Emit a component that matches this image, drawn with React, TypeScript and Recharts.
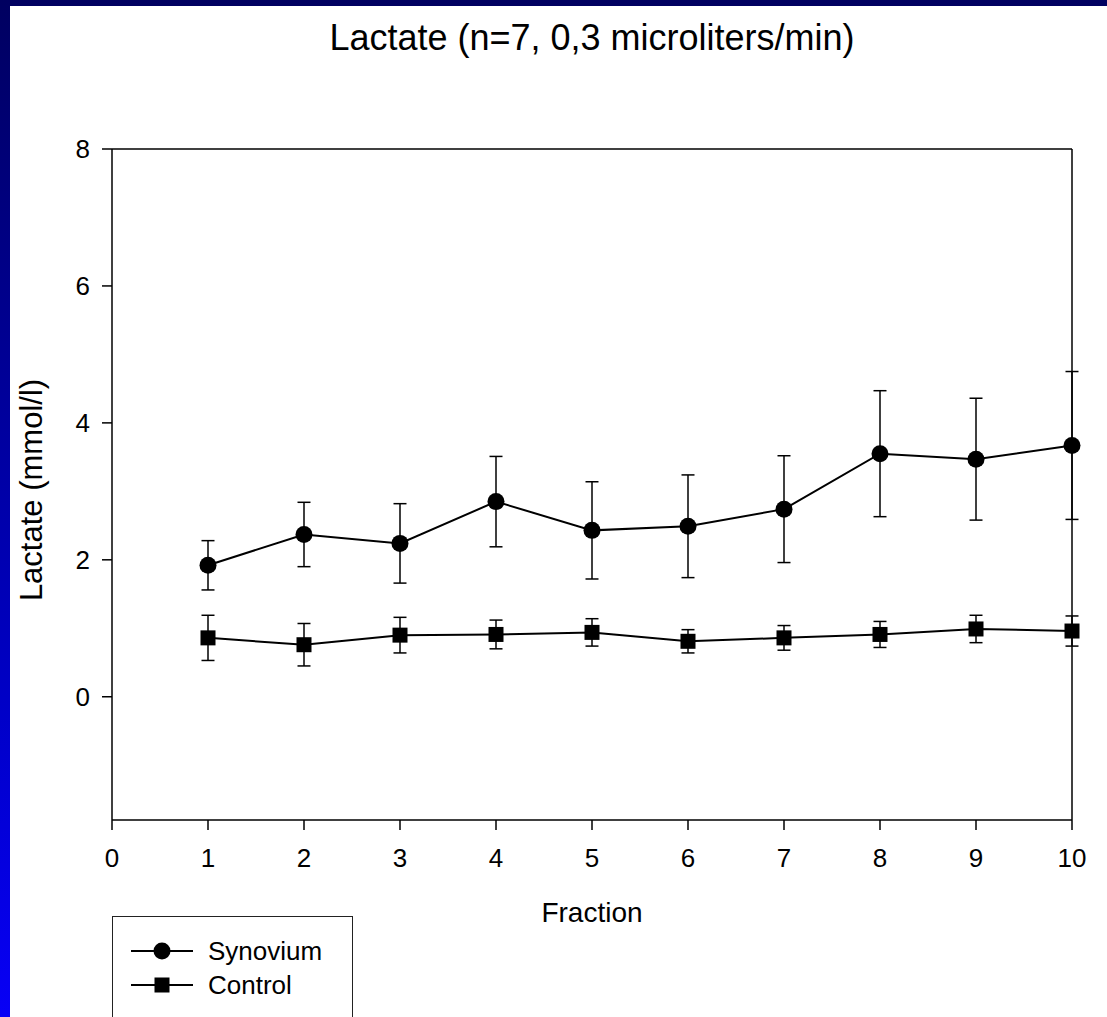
import React from 'react';
import { ComposedChart, Line, XAxis, YAxis, ErrorBar, ReferenceLine } from 'recharts';

const fractions = [1, 2, 3, 4, 5, 6, 7, 8, 9, 10];
const synovium = [1.92, 2.37, 2.24, 2.85, 2.43, 2.49, 2.74, 3.55, 3.47, 3.67];
const synoviumErr = [0.36, 0.47, 0.58, 0.66, 0.71, 0.75, 0.78, 0.92, 0.89, 1.08];
const control = [0.86, 0.76, 0.9, 0.91, 0.94, 0.81, 0.86, 0.91, 0.99, 0.96];
const controlErr = [0.33, 0.31, 0.26, 0.21, 0.2, 0.17, 0.18, 0.19, 0.2, 0.22];
const xTicks = [0, 1, 2, 3, 4, 5, 6, 7, 8, 9, 10];
const yTicks = [0, 2, 4, 6, 8];

const FONT = '"Liberation Sans", Arial, sans-serif';

const data = fractions.map((f, i) => ({
  fraction: f,
  synovium: synovium[i],
  synoviumErr: synoviumErr[i],
  control: control[i],
  controlErr: controlErr[i],
}));

const SquareDot = (props: any) => {
  const { cx, cy, index } = props;
  if (cx == null || cy == null) return null;
  return <rect key={`sq-${index}`} x={cx - 7.5} y={cy - 7.5} width={15} height={15} fill="#000" />;
};

const tickStyle = { fill: '#000', fontSize: 26, fontFamily: FONT };

export default function App() {
  return (
    <div
      style={{
        position: 'absolute',
        left: 0,
        top: 0,
        width: 1107,
        height: 1017,
        overflow: 'hidden',
        background: 'linear-gradient(to bottom, #000060 0%, #0000c8 70%, #0800f6 100%)',
        fontFamily: FONT,
      }}
    >
      <div style={{ position: 'absolute', left: 10, top: 6, right: 0, bottom: 0, background: '#fff' }} />

      <div
        style={{
          position: 'absolute',
          left: 112,
          width: 960,
          top: 19,
          fontSize: 36,
          lineHeight: '38px',
          textAlign: 'center',
          color: '#000',
        }}
      >
        Lactate (n=7, 0,3 microliters/min)
      </div>

      <div style={{ position: 'absolute', left: 0, top: 0 }}>
        <ComposedChart
          width={1107}
          height={1017}
          data={data}
          margin={{ top: 149, right: 35, bottom: 137, left: 0 }}
        >
          <XAxis
            dataKey="fraction"
            type="number"
            domain={[0, 10]}
            ticks={xTicks}
            height={60}
            tickSize={10}
            tickMargin={19}
            axisLine={{ stroke: '#000', strokeWidth: 1.5 }}
            tickLine={{ stroke: '#000', strokeWidth: 1.5 }}
            tick={tickStyle}
            interval={0}
          />
          <YAxis
            type="number"
            domain={[-1.8, 8]}
            ticks={yTicks}
            width={112}
            tickSize={10}
            tickMargin={12}
            allowDataOverflow
            axisLine={{ stroke: '#000', strokeWidth: 1.5 }}
            tickLine={{ stroke: '#000', strokeWidth: 1.5 }}
            tick={tickStyle}
            interval={0}
          />
          <ReferenceLine y={8} stroke="#000" strokeWidth={1.5} />
          <ReferenceLine x={10} stroke="#000" strokeWidth={1.5} />
          <Line
            dataKey="synovium"
            stroke="#000"
            strokeWidth={2}
            dot={{ r: 8.5, fill: '#000', stroke: 'none' }}
            isAnimationActive={false}
          >
            <ErrorBar dataKey="synoviumErr" direction="y" width={6.5} stroke="#000" strokeWidth={1.5} />
          </Line>
          <Line
            dataKey="control"
            stroke="#000"
            strokeWidth={2}
            dot={SquareDot}
            isAnimationActive={false}
          >
            <ErrorBar dataKey="controlErr" direction="y" width={6.5} stroke="#000" strokeWidth={1.5} />
          </Line>
        </ComposedChart>
      </div>

      <div
        style={{
          position: 'absolute',
          left: 32,
          top: 490,
          transform: 'translate(-50%, -50%) rotate(-90deg)',
          fontSize: 31,
          whiteSpace: 'nowrap',
          color: '#000',
        }}
      >
        Lactate (mmol/l)
      </div>

      <div
        style={{
          position: 'absolute',
          left: 112,
          width: 960,
          top: 897,
          fontSize: 28,
          lineHeight: '32px',
          textAlign: 'center',
          color: '#000',
        }}
      >
        Fraction
      </div>

      <div
        style={{
          position: 'absolute',
          left: 112,
          top: 916,
          width: 241,
          height: 140,
          border: '1.5px solid #222',
          background: '#fff',
          boxSizing: 'border-box',
        }}
      >
        {[
          { label: 'Synovium', shape: 'circle', y: 34 },
          { label: 'Control', shape: 'square', y: 68 },
        ].map((item) => (
          <div key={item.label} style={{ position: 'absolute', left: 18, top: item.y - 15, height: 30, display: 'flex', alignItems: 'center' }}>
            <svg width={62} height={30} style={{ display: 'block' }}>
              <line x1={0} y1={15} x2={62} y2={15} stroke="#000" strokeWidth={2} />
              {item.shape === 'circle' ? (
                <circle cx={31} cy={15} r={8.5} fill="#000" />
              ) : (
                <rect x={23.5} y={7.5} width={15} height={15} fill="#000" />
              )}
            </svg>
            <span style={{ marginLeft: 15, fontSize: 26, color: '#000', lineHeight: '30px' }}>{item.label}</span>
          </div>
        ))}
      </div>
    </div>
  );
}
